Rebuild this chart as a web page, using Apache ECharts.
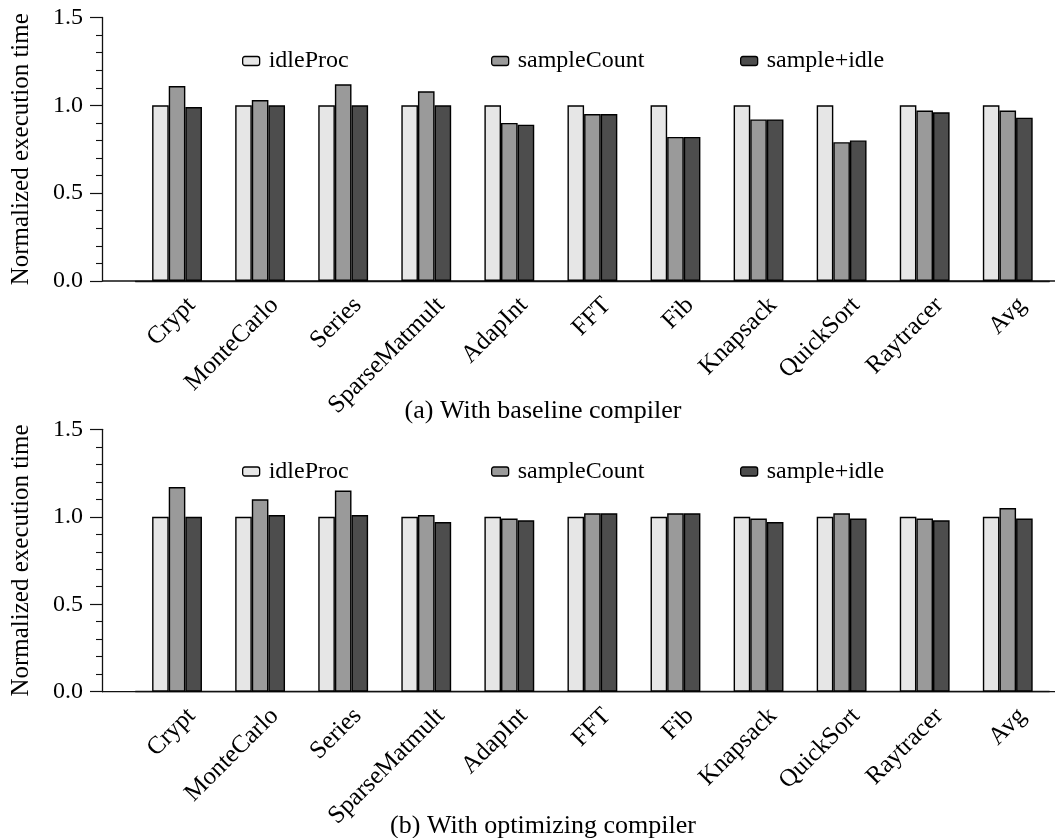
<!DOCTYPE html>
<html>
<head>
<meta charset="utf-8">
<script src="https://cdn.jsdelivr.net/npm/echarts@6/dist/echarts.min.js"></script>
<style>
  html, body { margin: 0; padding: 0; background: #fff; }
  #chart { width: 1055px; height: 838px; }
</style>
</head>
<body>
<div id="chart"></div>
<script>
// Benchmarks on the x axis
const categories = ['Crypt', 'MonteCarlo', 'Series', 'SparseMatmult', 'AdapInt', 'FFT', 'Fib', 'Knapsack', 'QuickSort', 'Raytracer', 'Avg'];
const seriesNames = ['idleProc', 'sampleCount', 'sample+idle'];
const yTickValues = [0.0, 0.5, 1.0, 1.5];

// (a) baseline compiler
const baselineIdleProc    = [1.00, 1.00, 1.00, 1.00, 1.00, 1.00, 1.00, 1.00, 1.00, 1.00, 1.00];
const baselineSampleCount = [1.11, 1.03, 1.12, 1.08, 0.90, 0.95, 0.82, 0.92, 0.79, 0.97, 0.97];
const baselineSampleIdle  = [0.99, 1.00, 1.00, 1.00, 0.89, 0.95, 0.82, 0.92, 0.80, 0.96, 0.93];

// (b) optimizing compiler
const optIdleProc    = [1.00, 1.00, 1.00, 1.00, 1.00, 1.00, 1.00, 1.00, 1.00, 1.00, 1.00];
const optSampleCount = [1.17, 1.10, 1.15, 1.01, 0.99, 1.02, 1.02, 0.99, 1.02, 0.99, 1.05];
const optSampleIdle  = [1.00, 1.01, 1.01, 0.97, 0.98, 1.02, 1.02, 0.97, 0.99, 0.98, 0.99];

const captions = ['(a) With baseline compiler', '(b) With optimizing compiler'];
const yAxisTitle = 'Normalized execution time';

// Layout
const W = 1055;
const FONT = 'Liberation Serif';
const FILLS = ['#e6e6e6', '#9a9a9a', '#4d4d4d'];
const GRID_LEFT = 135.5;
const GRID_RIGHT = 5.7;
const Y_OFFSET = 33.5;   // y axis sits left of the first category band
const panels = [
  { top: 17.5, height: 263.5, legendTop: 49,  captionY: 411 },
  { top: 429.3, height: 262.4, legendTop: 459.5, captionY: 826 }
];
const legendLefts = [242, 491, 740];

const panelData = [
  [baselineIdleProc, baselineSampleCount, baselineSampleIdle],
  [optIdleProc, optSampleCount, optSampleIdle]
];

const grids = [], xAxes = [], yAxes = [], series = [], legends = [], graphics = [];

panels.forEach((p, i) => {
  grids.push({ left: GRID_LEFT, right: GRID_RIGHT, top: p.top, height: p.height, containLabel: false });

  xAxes.push({
    type: 'category',
    gridIndex: i,
    data: categories,
    axisLine: { show: true, lineStyle: { color: '#111', width: 1.3 } },
    axisTick: { show: false },
    axisLabel: {
      interval: 0,
      rotate: 45,
      verticalAlign: 'top',
      margin: 6,
      padding: [8, 0, 0, 0],
      fontFamily: FONT,
      fontSize: 25,
      color: '#000'
    },
    splitLine: { show: false }
  });

  yAxes.push({
    type: 'value',
    gridIndex: i,
    min: yTickValues[0],
    max: yTickValues[yTickValues.length - 1],
    interval: yTickValues[1] - yTickValues[0],
    offset: Y_OFFSET,
    name: yAxisTitle,
    nameLocation: 'middle',
    nameGap: 68,
    nameTextStyle: { fontFamily: FONT, fontSize: 25, color: '#000' },
    axisLine: { show: true, lineStyle: { color: '#111', width: 1.3 } },
    axisTick: { show: true, length: 12, lineStyle: { color: '#111', width: 1.2 } },
    minorTick: { show: true, splitNumber: 5, length: 6, lineStyle: { color: '#111', width: 1.1 } },
    axisLabel: {
      margin: 19,
      fontFamily: FONT,
      fontSize: 24,
      color: '#000',
      formatter: v => v.toFixed(1)
    },
    splitLine: { show: false }
  });

  seriesNames.forEach((name, k) => {
    series.push({
      name: name,
      type: 'bar',
      xAxisIndex: i,
      yAxisIndex: i,
      data: panelData[i][k],
      barGap: '0%',
      barCategoryGap: '40%',
      itemStyle: { color: FILLS[k], borderColor: '#000', borderWidth: 1.4 },
      emphasis: { disabled: true }
    });
  });

  seriesNames.forEach((name, k) => {
    legends.push({
      data: [name],
      left: legendLefts[k],
      top: p.legendTop,
      padding: 0,
      itemWidth: 17,
      itemHeight: 9,
      icon: 'roundRect',
      selectedMode: false,
      itemStyle: { borderColor: '#000', borderWidth: 1.3 },
      textStyle: { fontFamily: FONT, fontSize: 24, color: '#000', padding: [0, 0, 0, 4] }
    });
  });

  // baseline runs from the y axis to the right edge
  graphics.push({
    type: 'line',
    shape: { x1: GRID_LEFT - Y_OFFSET, y1: p.top + p.height, x2: W, y2: p.top + p.height },
    style: { stroke: '#111', lineWidth: 1.3 },
    silent: true
  });

  graphics.push({
    type: 'text',
    style: {
      x: 543, y: p.captionY,
      text: captions[i],
      textAlign: 'center',
      textVerticalAlign: 'middle',
      fontFamily: FONT,
      fontSize: 26,
      fill: '#000'
    },
    silent: true
  });
});

const chart = echarts.init(document.getElementById('chart'), null, { renderer: 'canvas' });
chart.setOption({
  animation: false,
  backgroundColor: '#fff',
  grid: grids,
  xAxis: xAxes,
  yAxis: yAxes,
  legend: legends,
  series: series,
  graphic: graphics
});
</script>
</body>
</html>
